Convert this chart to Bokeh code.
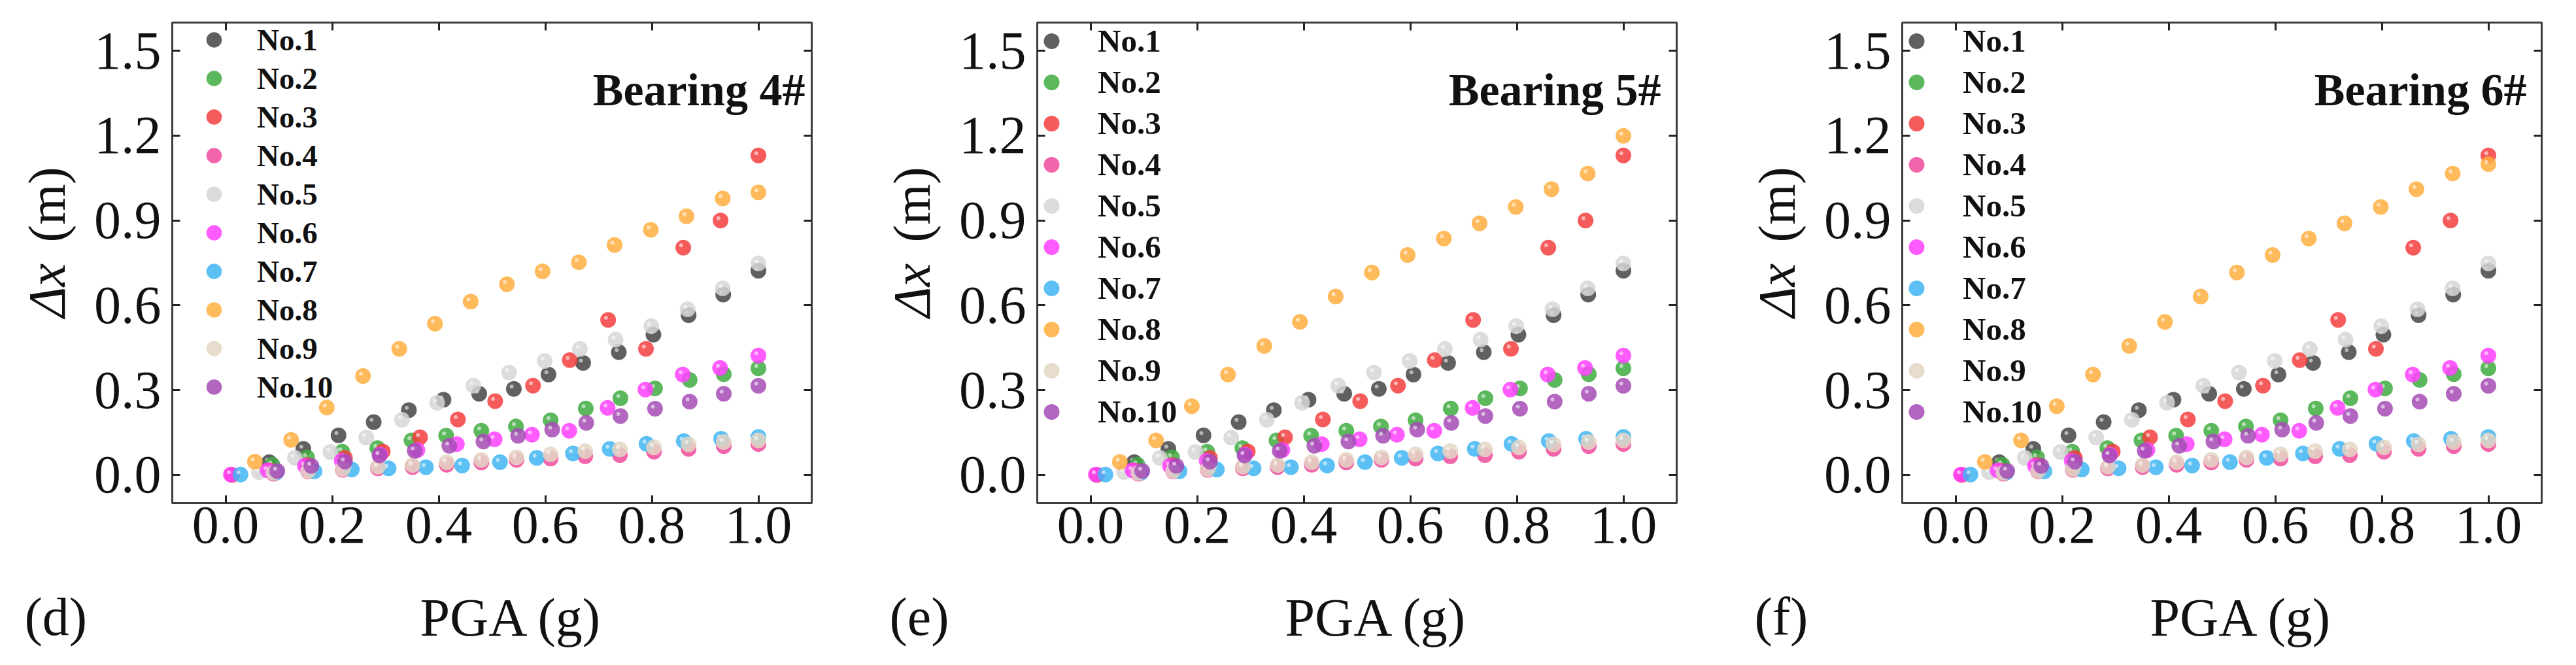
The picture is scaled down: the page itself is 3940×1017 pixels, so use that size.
from bokeh.plotting import figure
from bokeh.models import (Range1d, FixedTicker, PrintfTickFormatter, LinearAxis,
                          Legend, LegendItem, Label, Title, ColumnDataSource)
from bokeh.layouts import row, column
from bokeh.transform import dodge
from bokeh.embed import file_html
from bokeh.resources import INLINE

# ---------------- data ----------------
SERIES = ["No.1", "No.2", "No.3", "No.4", "No.5", "No.6", "No.7", "No.8", "No.9", "No.10"]
COLORS = ["#444444", "#40ac40", "#f33e3e", "#f04a9b", "#d6d6d6",
          "#ff3fff", "#3fb5f3", "#ffae3f", "#e4d6c4", "#a54bb5"]

PGA_NO1 = [0.082, 0.146, 0.212, 0.278, 0.344, 0.409, 0.476, 0.541, 0.606, 0.671, 0.738, 0.803, 0.869, 0.934, 1.0]
DX_NO1 = [0.045, 0.092, 0.140, 0.187, 0.229, 0.266, 0.287, 0.304, 0.355, 0.396, 0.434, 0.496, 0.565, 0.638, 0.722]

PGA_NO2 = [0.088, 0.153, 0.219, 0.285, 0.349, 0.414, 0.480, 0.545, 0.610, 0.676, 0.741, 0.806, 0.871, 0.935, 1.0]
DX_NO2 = [0.036, 0.062, 0.082, 0.095, 0.122, 0.139, 0.156, 0.171, 0.193, 0.235, 0.271, 0.306, 0.336, 0.356, 0.377]

PGA_NO3 = [0.012, 0.083, 0.154, 0.224, 0.295, 0.365, 0.436, 0.506, 0.577, 0.646, 0.718, 0.789, 0.859, 0.929, 1.0]
DX_NO3 = [0.000, 0.015, 0.035, 0.060, 0.083, 0.133, 0.196, 0.261, 0.316, 0.406, 0.548, 0.446, 0.804, 0.900, 1.130]

PGA_NO4 = [0.090, 0.155, 0.220, 0.286, 0.351, 0.415, 0.480, 0.546, 0.610, 0.675, 0.740, 0.804, 0.869, 0.935, 1.0]
DX_NO4 = [0.004, 0.012, 0.018, 0.023, 0.028, 0.036, 0.044, 0.053, 0.058, 0.066, 0.070, 0.082, 0.092, 0.102, 0.109]

PGA_NO5 = [0.063, 0.130, 0.197, 0.264, 0.331, 0.397, 0.465, 0.532, 0.599, 0.665, 0.732, 0.799, 0.867, 0.933, 1.0]
DX_NO5 = [0.010, 0.060, 0.081, 0.132, 0.195, 0.255, 0.316, 0.362, 0.403, 0.445, 0.478, 0.526, 0.586, 0.660, 0.748]

PGA_NO6 = [0.010, 0.079, 0.149, 0.218, 0.290, 0.360, 0.434, 0.505, 0.575, 0.645, 0.717, 0.788, 0.858, 0.928, 1.0]
DX_NO6 = [0.001, 0.016, 0.032, 0.050, 0.072, 0.088, 0.109, 0.126, 0.142, 0.156, 0.237, 0.302, 0.355, 0.378, 0.422]

PGA_NO7 = [0.028, 0.095, 0.167, 0.237, 0.306, 0.376, 0.444, 0.515, 0.584, 0.652, 0.721, 0.790, 0.860, 0.930, 1.0]
DX_NO7 = [0.001, 0.008, 0.013, 0.019, 0.023, 0.027, 0.033, 0.045, 0.060, 0.076, 0.092, 0.110, 0.120, 0.128, 0.134]

PGA_NO8 = [0.055, 0.123, 0.190, 0.258, 0.326, 0.393, 0.460, 0.528, 0.595, 0.663, 0.730, 0.798, 0.865, 0.933, 1.0]
DX_NO8_B4 = [0.047, 0.124, 0.238, 0.350, 0.446, 0.535, 0.613, 0.674, 0.720, 0.752, 0.813, 0.867, 0.915, 0.978, 0.999]
DX_NO8_B5 = [0.046, 0.122, 0.243, 0.355, 0.456, 0.541, 0.631, 0.716, 0.778, 0.836, 0.890, 0.948, 1.011, 1.066, 1.199]
DX_NO8_B6 = [0.046, 0.122, 0.243, 0.355, 0.456, 0.541, 0.631, 0.716, 0.778, 0.836, 0.890, 0.948, 1.011, 1.066, 1.099]

PGA_NO9 = [0.090, 0.155, 0.220, 0.286, 0.351, 0.415, 0.480, 0.546, 0.610, 0.675, 0.740, 0.804, 0.869, 0.935, 1.0]
DX_NO9 = [0.007, 0.014, 0.021, 0.029, 0.035, 0.045, 0.053, 0.062, 0.073, 0.084, 0.090, 0.097, 0.108, 0.116, 0.122]

PGA_NO10 = [0.097, 0.161, 0.224, 0.289, 0.355, 0.420, 0.484, 0.549, 0.613, 0.677, 0.741, 0.806, 0.871, 0.935, 1.0]
DX_NO10 = [0.014, 0.032, 0.047, 0.069, 0.085, 0.103, 0.118, 0.138, 0.160, 0.184, 0.208, 0.234, 0.259, 0.287, 0.315]

X_TICKS = [0.0, 0.2, 0.4, 0.6, 0.8, 1.0]
Y_TICKS = [0.0, 0.3, 0.6, 0.9, 1.2, 1.5]

PANEL_TAGS = ["(d)", "(e)", "(f)"]
BEARINGS = ["Bearing 4#", "Bearing 5#", "Bearing 6#"]
NO8_BY_PANEL = [DX_NO8_B4, DX_NO8_B5, DX_NO8_B6]

PGA_ALL = [PGA_NO1, PGA_NO2, PGA_NO3, PGA_NO4, PGA_NO5, PGA_NO6, PGA_NO7, PGA_NO8, PGA_NO9, PGA_NO10]
DX_COMMON = [DX_NO1, DX_NO2, DX_NO3, DX_NO4, DX_NO5, DX_NO6, DX_NO7, None, DX_NO9, DX_NO10]

FONT = "Liberation Serif"
TICK_FS = "82px"
INK = "#111111"

# layout: (panel width, right border, bearing x, legend x, legend y, pitch, standoff, legend font)
PANEL_LAYOUT = [
    (1323, 82, 968, 34, 148, 59, 36, "47px"),
    (1323, 82, 954, -8, 108, 63, 41, "49px"),
    (1278, 37, 955, -8, 108, 63, 41, "49px"),
]
LEFT_W = 140                  # left column: y title pieces and panel tag
TOTAL_H = 1000
TOP_H = 870                   # plot figure height
BOTTOM_H = TOTAL_H - TOP_H    # strip holding the x title / panel tag
UNIT_H = 382                  # upper part of the left column ("(m)")
SYM_H = TOP_H - UNIT_H        # lower part ("Δx")


def no_frame_align(fig):
    try:
        fig.frame_align = False
    except Exception:
        pass


def blank(width, height, **borders):
    s = figure(width=width, height=height, x_range=Range1d(0, 1), y_range=Range1d(0, 1),
               output_backend="svg", toolbar_location=None,
               x_axis_location=None, y_axis_location=None, **borders)
    s.grid.visible = False
    s.outline_line_color = None
    s.background_fill_color = "white"
    s.border_fill_color = "white"
    no_frame_align(s)
    return s


def title_strip(height, text, offset, style):
    # vertical title drawn by a Title in the left side panel (not clipped)
    s = blank(LEFT_W, height, min_border_left=120, min_border_right=0,
              min_border_top=0, min_border_bottom=0)
    s.add_layout(Title(text=text, align="left", vertical_align="bottom", offset=offset,
                       standoff=10, text_font=FONT, text_font_size="80px",
                       text_font_style=style, text_color=INK), "left")
    return s


def make_panel(i):
    W, rb, bx, lx, ly, pitch, lstand, lfs = PANEL_LAYOUT[i]
    p = figure(width=W - LEFT_W, height=TOP_H, x_range=Range1d(-0.1, 1.1), y_range=Range1d(-0.1, 1.6),
               output_backend="svg", toolbar_location=None,
               min_border_left=262 - LEFT_W, min_border_right=rb, min_border_top=34,
               min_border_bottom=TOP_H - 34 - 735)
    no_frame_align(p)
    p.grid.visible = False
    p.outline_line_color = "#3c3c3c"
    p.outline_line_width = 3
    p.background_fill_color = "white"
    p.border_fill_color = "white"

    for ax, ticks in ((p.xaxis[0], X_TICKS), (p.yaxis[0], Y_TICKS)):
        ax.ticker = FixedTicker(ticks=ticks)
        ax.formatter = PrintfTickFormatter(format="%.1f")
        ax.axis_line_color = None
        ax.major_tick_in = 12
        ax.major_tick_out = 0
        ax.major_tick_line_width = 3
        ax.major_tick_line_color = "#222222"
        ax.minor_tick_line_color = None
        ax.major_label_text_font = FONT
        ax.major_label_text_font_size = TICK_FS
        ax.major_label_text_color = INK
    p.xaxis[0].major_label_standoff = 6
    p.yaxis[0].major_label_standoff = 17

    for place, ticks in (("above", X_TICKS), ("right", Y_TICKS)):
        ax = LinearAxis(ticker=FixedTicker(ticks=ticks), axis_line_color=None,
                        major_tick_in=12, major_tick_out=0, major_tick_line_width=3,
                        major_tick_line_color="#222222", minor_tick_line_color=None,
                        major_label_text_font_size="1px", major_label_text_color=None,
                        major_label_standoff=0)
        p.add_layout(ax, place)

    items = []
    for k, name in enumerate(SERIES):
        ys = NO8_BY_PANEL[i] if DX_COMMON[k] is None else DX_COMMON[k]
        src = ColumnDataSource(dict(x=PGA_ALL[k], y=ys))
        r = p.scatter("x", "y", source=src, size=24, marker="circle",
                      fill_color=COLORS[k], fill_alpha=0.85, line_color=None)
        p.scatter(dodge("x", -0.004), dodge("y", 0.008), source=src, size=6,
                  marker="circle", fill_color="white", fill_alpha=0.55, line_color=None)
        items.append(LegendItem(label=name, renderers=[r]))

    leg = Legend(items=items, location=(lx, ly), orientation="vertical",
                 glyph_width=60, glyph_height=pitch, label_height=pitch,
                 label_standoff=lstand, spacing=0, padding=0, margin=0,
                 border_line_color=None, background_fill_alpha=0,
                 label_text_font=FONT, label_text_font_style="bold",
                 label_text_font_size=lfs, label_text_color=INK)
    p.add_layout(leg)

    p.add_layout(Label(x=bx, y=632, x_units="screen", y_units="screen", text=BEARINGS[i],
                       text_align="right", text_baseline="alphabetic", text_font=FONT,
                       text_font_style="bold", text_font_size="70px", text_color=INK))

    # left column: "(m)" over italic "Δx" (one vertical title), then the panel tag
    unit = title_strip(UNIT_H, "(m)", 12, "normal")
    sym = title_strip(SYM_H, "\u0394x", SYM_H - (493 - 8 - UNIT_H), "italic")
    tag = blank(LEFT_W, BOTTOM_H, min_border=0)
    tag.add_layout(Label(x=37, y=57, x_units="screen", y_units="screen", text=PANEL_TAGS[i],
                         text_align="left", text_baseline="alphabetic", text_font=FONT,
                         text_font_size="82px", text_color=INK))

    # bottom strip: x-axis title
    bottom = blank(W - LEFT_W, BOTTOM_H, min_border=0)
    bottom.add_layout(Label(x=642 - LEFT_W, y=56, x_units="screen", y_units="screen",
                            text="PGA (g)", text_align="left", text_baseline="alphabetic",
                            text_font=FONT, text_font_size="82px", text_color=INK))
    return row(column(unit, sym, tag), column(p, bottom))


layout = row(*[make_panel(i) for i in range(3)])
open("out.html", "w").write(file_html(layout, INLINE))
